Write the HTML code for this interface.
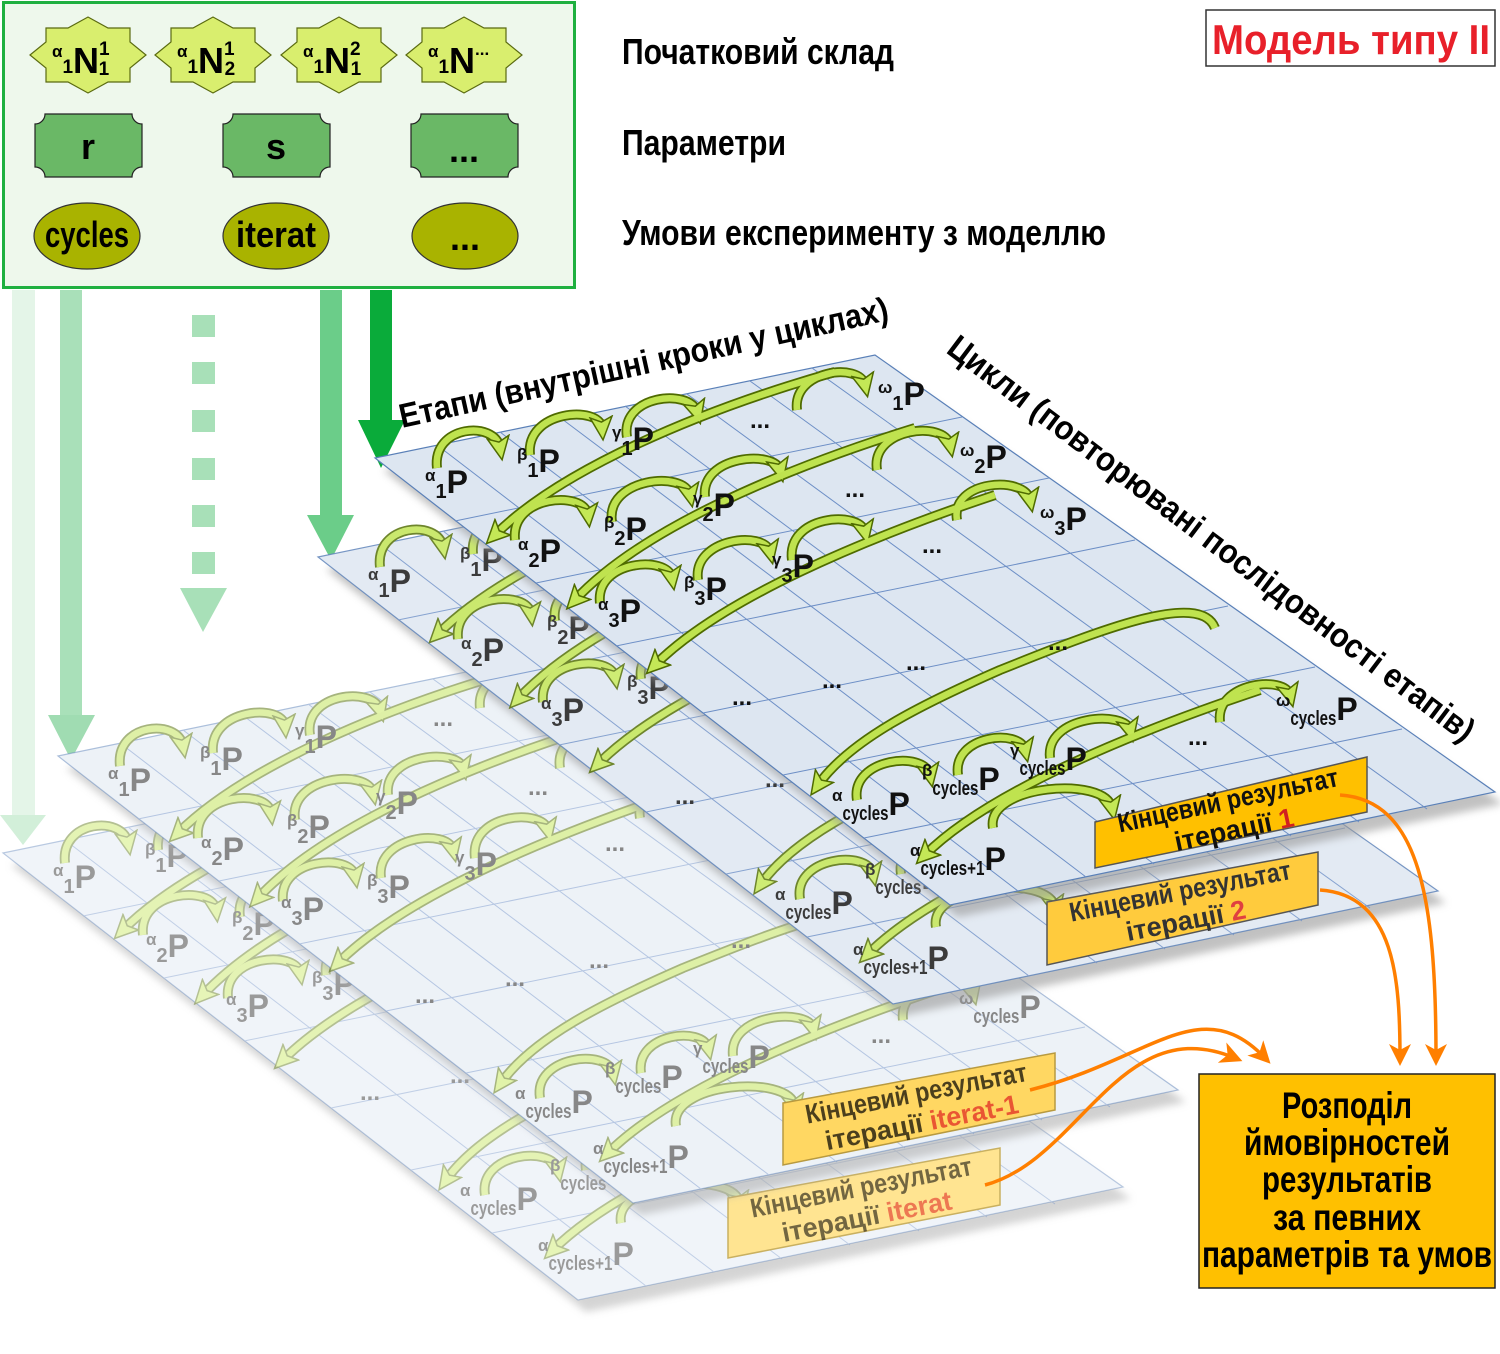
<!DOCTYPE html>
<html><head><meta charset="utf-8"><style>
html,body{margin:0;padding:0;background:#fff}
svg{display:block}
text{font-family:"Liberation Sans","DejaVu Sans",sans-serif;font-weight:bold}
.lb{fill:#111}
.o{fill:none;stroke:#4f6b00;stroke-width:10;stroke-linecap:butt}
.i{fill:none;stroke:#bfe34f;stroke-width:6.5;stroke-linecap:butt}
.gl{stroke:#6d8fc6;stroke-width:1;fill:none}
.oc{fill:none;stroke:#ff7f00;stroke-width:3.5}
</style></head><body>
<svg width="1500" height="1354" viewBox="0 0 1500 1354" xmlns="http://www.w3.org/2000/svg">
<defs>
<marker id="ah" markerUnits="userSpaceOnUse" markerWidth="26" markerHeight="26" refX="12" refY="13" orient="auto">
<path d="M1,2 L24,13 L1,24 L6,13 Z" fill="#c4e856" stroke="#4f6b00" stroke-width="1.5"/>
</marker>
<marker id="oh" markerUnits="userSpaceOnUse" markerWidth="24" markerHeight="24" refX="14" refY="12" orient="auto">
<path d="M0,1 L22,12 L0,23 L6,12 Z" fill="#ff7f00"/>
</marker>
<filter id="bl" x="-10%" y="-10%" width="120%" height="120%"><feGaussianBlur stdDeviation="4"/></filter>
<polygon id="pshape" points="375,458 875,355 1495,792 950,905"/>
<g id="plane">
<polygon points="375,458 875,355 1495,792 950,905" fill="#dde6f1" stroke="#5a80b8" stroke-width="1.2"/>
<g class="gl">
<line x1="455" y1="521" x2="962" y2="417"/>
<line x1="536" y1="583" x2="1049" y2="478"/>
<line x1="616" y1="646" x2="1135" y2="540"/>
<line x1="703" y1="713" x2="1228" y2="606"/>
<line x1="783" y1="775" x2="1315" y2="667"/>
<line x1="864" y1="838" x2="1402" y2="729"/>
<line x1="437" y1="445" x2="1018" y2="891"/>
<line x1="500" y1="432" x2="1086" y2="877"/>
<line x1="562" y1="419" x2="1154" y2="864"/>
<line x1="625" y1="406" x2="1222" y2="850"/>
<line x1="687" y1="394" x2="1291" y2="836"/>
<line x1="750" y1="381" x2="1359" y2="822"/>
<line x1="812" y1="368" x2="1427" y2="809"/>
</g>
<g class="o">
<path d="M437,468 C432,425 495,420 500,448"/>
<path d="M530,455 C525,410 600,405 602,428"/>
<path d="M627,437 C620,395 690,388 697,412"/>
<path d="M797,410 C792,370 860,362 865,385"/>
<path d="M835,372 C700,410 560,470 495,535"/>
<path d="M515,540 C510,495 585,490 588,515"/>
<path d="M612,522 C605,478 685,470 690,495"/>
<path d="M705,497 C700,455 775,450 780,470"/>
<path d="M877,470 C870,428 945,420 950,445"/>
<path d="M915,428 C780,470 640,530 575,600"/>
<path d="M600,603 C595,560 668,555 672,578"/>
<path d="M698,580 C692,538 765,530 770,552"/>
<path d="M792,560 C786,515 860,510 865,532"/>
<path d="M957,520 C950,480 1025,475 1030,500"/>
<path d="M995,495 C860,540 720,600 655,665"/>
<path d="M1215,628 C1200,590 1100,630 1000,670 C920,705 850,740 818,785"/>
<path d="M857,800 C850,758 925,750 930,775"/>
<path d="M958,775 C952,735 1020,728 1025,750"/>
<path d="M1050,758 C1045,715 1125,710 1130,730"/>
<path d="M1220,722 C1215,682 1285,675 1290,695"/>
<path d="M1260,690 C1140,730 990,790 925,855"/>
<path d="M993,828 C985,785 1105,775 1112,808"/>
</g>
<g class="i">
<path d="M437,468 C432,425 495,420 500,448" marker-end="url(#ah)"/>
<path d="M530,455 C525,410 600,405 602,428" marker-end="url(#ah)"/>
<path d="M627,437 C620,395 690,388 697,412" marker-end="url(#ah)"/>
<path d="M797,410 C792,370 860,362 865,385" marker-end="url(#ah)"/>
<path d="M835,372 C700,410 560,470 495,535" marker-end="url(#ah)"/>
<path d="M515,540 C510,495 585,490 588,515" marker-end="url(#ah)"/>
<path d="M612,522 C605,478 685,470 690,495" marker-end="url(#ah)"/>
<path d="M705,497 C700,455 775,450 780,470" marker-end="url(#ah)"/>
<path d="M877,470 C870,428 945,420 950,445" marker-end="url(#ah)"/>
<path d="M915,428 C780,470 640,530 575,600" marker-end="url(#ah)"/>
<path d="M600,603 C595,560 668,555 672,578" marker-end="url(#ah)"/>
<path d="M698,580 C692,538 765,530 770,552" marker-end="url(#ah)"/>
<path d="M792,560 C786,515 860,510 865,532" marker-end="url(#ah)"/>
<path d="M957,520 C950,480 1025,475 1030,500" marker-end="url(#ah)"/>
<path d="M995,495 C860,540 720,600 655,665" marker-end="url(#ah)"/>
<path d="M1215,628 C1200,590 1100,630 1000,670 C920,705 850,740 818,785" marker-end="url(#ah)"/>
<path d="M857,800 C850,758 925,750 930,775" marker-end="url(#ah)"/>
<path d="M958,775 C952,735 1020,728 1025,750" marker-end="url(#ah)"/>
<path d="M1050,758 C1045,715 1125,710 1130,730" marker-end="url(#ah)"/>
<path d="M1220,722 C1215,682 1285,675 1290,695" marker-end="url(#ah)"/>
<path d="M1260,690 C1140,730 990,790 925,855" marker-end="url(#ah)"/>
<path d="M993,828 C985,785 1105,775 1112,808" marker-end="url(#ah)"/>
</g>
<g class="lb">
<text x="425" y="493"><tspan font-size="17" dy="-12">α</tspan><tspan font-size="20" dy="17">1</tspan><tspan font-size="32" dy="-5">P</tspan></text>
<text x="517" y="472"><tspan font-size="17" dy="-12">β</tspan><tspan font-size="20" dy="17">1</tspan><tspan font-size="32" dy="-5">P</tspan></text>
<text x="612" y="450"><tspan font-size="17" dy="-12">γ</tspan><tspan font-size="20" dy="17">1</tspan><tspan font-size="32" dy="-5">P</tspan></text>
<text x="878" y="405"><tspan font-size="17" dy="-12">ω</tspan><tspan font-size="20" dy="17">1</tspan><tspan font-size="32" dy="-5">P</tspan></text>
<text x="518" y="562"><tspan font-size="17" dy="-12">α</tspan><tspan font-size="20" dy="17">2</tspan><tspan font-size="32" dy="-5">P</tspan></text>
<text x="604" y="540"><tspan font-size="17" dy="-12">β</tspan><tspan font-size="20" dy="17">2</tspan><tspan font-size="32" dy="-5">P</tspan></text>
<text x="693" y="516"><tspan font-size="17" dy="-12">γ</tspan><tspan font-size="20" dy="17">2</tspan><tspan font-size="32" dy="-5">P</tspan></text>
<text x="960" y="468"><tspan font-size="17" dy="-12">ω</tspan><tspan font-size="20" dy="17">2</tspan><tspan font-size="32" dy="-5">P</tspan></text>
<text x="598" y="622"><tspan font-size="17" dy="-12">α</tspan><tspan font-size="20" dy="17">3</tspan><tspan font-size="32" dy="-5">P</tspan></text>
<text x="684" y="600"><tspan font-size="17" dy="-12">β</tspan><tspan font-size="20" dy="17">3</tspan><tspan font-size="32" dy="-5">P</tspan></text>
<text x="772" y="577"><tspan font-size="17" dy="-12">γ</tspan><tspan font-size="20" dy="17">3</tspan><tspan font-size="32" dy="-5">P</tspan></text>
<text x="1040" y="530"><tspan font-size="17" dy="-12">ω</tspan><tspan font-size="20" dy="17">3</tspan><tspan font-size="32" dy="-5">P</tspan></text>
<text x="832" y="815"><tspan font-size="17" dy="-14">α</tspan><tspan font-size="20" dy="19" textLength="46" lengthAdjust="spacingAndGlyphs">cycles</tspan><tspan font-size="32" dy="-5">P</tspan></text>
<text x="922" y="790"><tspan font-size="17" dy="-14">β</tspan><tspan font-size="20" dy="19" textLength="46" lengthAdjust="spacingAndGlyphs">cycles</tspan><tspan font-size="32" dy="-5">P</tspan></text>
<text x="1010" y="770"><tspan font-size="17" dy="-14">γ</tspan><tspan font-size="20" dy="19" textLength="46" lengthAdjust="spacingAndGlyphs">cycles</tspan><tspan font-size="32" dy="-5">P</tspan></text>
<text x="1276" y="720"><tspan font-size="17" dy="-14">ω</tspan><tspan font-size="20" dy="19" textLength="46" lengthAdjust="spacingAndGlyphs">cycles</tspan><tspan font-size="32" dy="-5">P</tspan></text>
<text x="910" y="870"><tspan font-size="17" dy="-14">α</tspan><tspan font-size="20" dy="19" textLength="64" lengthAdjust="spacingAndGlyphs">cycles+1</tspan><tspan font-size="32" dy="-5">P</tspan></text>
<text x="750" y="428" font-size="24">...</text>
<text x="845" y="497" font-size="24">...</text>
<text x="922" y="553" font-size="24">...</text>
<text x="732" y="705" font-size="24">...</text>
<text x="822" y="688" font-size="24">...</text>
<text x="906" y="670" font-size="24">...</text>
<text x="1048" y="650" font-size="24">...</text>
<text x="1188" y="745" font-size="24">...</text>
</g>
</g>
</defs>

<!-- left arrows -->
<rect x="12" y="290" width="23" height="527" fill="#e4f5e8"/>
<polygon points="0,815 46,815 23,845" fill="#d2efd9"/>
<rect x="60" y="290" width="22" height="427" fill="#a9e0b9"/>
<polygon points="48,715 95,715 71,760" fill="#a0dcb2"/>
<g fill="#a8e0b8">
<rect x="192" y="315" width="23" height="22"/><rect x="192" y="362" width="23" height="22"/>
<rect x="192" y="410" width="23" height="22"/><rect x="192" y="458" width="23" height="22"/>
<rect x="192" y="505" width="23" height="22"/><rect x="192" y="552" width="23" height="22"/>
<polygon points="180,588 227,588 203,632"/>
</g>
<rect x="320" y="290" width="22" height="227" fill="#6bcd89"/>
<polygon points="307,515 354,515 331,560" fill="#6bcd89"/>
<rect x="370" y="290" width="22" height="132" fill="#0aab3a"/>
<polygon points="358,420 405,420 381,468" fill="#0aab3a"/>

<!-- plane 4 -->
<use href="#pshape" transform="translate(-364,407)" fill="#aaa" filter="url(#bl)" opacity="0.5"/>
<use href="#pshape" transform="translate(-372,395)" fill="#fff"/>
<use href="#plane" transform="translate(-372,395)" opacity="0.42"/>
<polygon points="728,1198 1000,1148 1000,1205 728,1258" fill="#ffe491" stroke="#c9b060" stroke-width="1.5"/>
<g transform="rotate(-11 864 1202)" opacity="0.55">
<text x="864" y="1196" font-size="27" text-anchor="middle" textLength="225" lengthAdjust="spacingAndGlyphs">Кінцевий результат</text>
<text x="864" y="1226" font-size="27" text-anchor="middle">ітерації <tspan fill="#e02020">iterat</tspan></text>
</g>

<!-- plane 3 -->
<use href="#pshape" transform="translate(-309,310)" fill="#aaa" filter="url(#bl)" opacity="0.55"/>
<use href="#pshape" transform="translate(-317,298)" fill="#fff"/>
<use href="#plane" transform="translate(-317,298)" opacity="0.5"/>
<polygon points="783,1103 1055,1053 1055,1110 783,1165" fill="#ffd762" stroke="#b89a40" stroke-width="1.5"/>
<g transform="rotate(-11 919 1108)" opacity="0.7">
<text x="919" y="1102" font-size="27" text-anchor="middle" textLength="225" lengthAdjust="spacingAndGlyphs">Кінцевий результат</text>
<text x="919" y="1132" font-size="27" text-anchor="middle">ітерації <tspan fill="#e02020">iterat-1</tspan></text>
</g>

<!-- plane 2 -->
<use href="#pshape" transform="translate(-49,111)" fill="#999" filter="url(#bl)" opacity="0.6"/>
<use href="#pshape" transform="translate(-57,99)" fill="#fff"/>
<use href="#plane" transform="translate(-57,99)" opacity="0.82"/>
<polygon points="1047,902 1318,852 1318,905 1047,965" fill="#ffcb3d" stroke="#555" stroke-width="1.5"/>
<g transform="rotate(-11 1183 906)">
<text x="1183" y="900" font-size="27" text-anchor="middle" fill="#333" textLength="225" lengthAdjust="spacingAndGlyphs">Кінцевий результат</text>
<text x="1183" y="930" font-size="27" text-anchor="middle" fill="#333">ітерації <tspan fill="#e04040">2</tspan></text>
</g>

<!-- plane 1 -->
<use href="#pshape" transform="translate(8,12)" fill="#999" filter="url(#bl)" opacity="0.6"/>
<use href="#plane"/>
<polygon points="1095,822 1367,757 1367,812 1095,868" fill="#ffc000" stroke="#555" stroke-width="1.5"/>
<g transform="rotate(-12 1231 815)">
<text x="1231" y="809" font-size="27" text-anchor="middle" fill="#111" textLength="225" lengthAdjust="spacingAndGlyphs">Кінцевий результат</text>
<text x="1231" y="839" font-size="27" text-anchor="middle" fill="#111">ітерації <tspan fill="#d02020">1</tspan></text>
</g>

<!-- orange connectors -->
<path class="oc" d="M1340,795 C1420,800 1436,900 1436,1058" marker-end="url(#oh)"/>
<path class="oc" d="M1320,890 C1395,895 1400,980 1400,1058" marker-end="url(#oh)"/>
<path class="oc" d="M1030,1090 C1150,1060 1200,990 1265,1058" marker-end="url(#oh)"/>
<path class="oc" d="M985,1185 C1080,1160 1120,1010 1235,1058" marker-end="url(#oh)"/>

<!-- final box -->
<rect x="1199" y="1074" width="296" height="214" fill="#ffc000" stroke="#222" stroke-width="1.5"/>
<g font-size="37" text-anchor="middle" fill="#000">
<text x="1347" y="1118" textLength="130" lengthAdjust="spacingAndGlyphs">Розподіл</text>
<text x="1347" y="1155" textLength="206" lengthAdjust="spacingAndGlyphs">ймовірностей</text>
<text x="1347" y="1192" textLength="170" lengthAdjust="spacingAndGlyphs">результатів</text>
<text x="1347" y="1230" textLength="148" lengthAdjust="spacingAndGlyphs">за певних</text>
<text x="1347" y="1267" textLength="290" lengthAdjust="spacingAndGlyphs">параметрів та умов</text>
</g>

<!-- rotated titles -->
<text x="402" y="428" font-size="34" transform="rotate(-12.5 402 428)" textLength="500" lengthAdjust="spacingAndGlyphs">Етапи (внутрішні кроки у циклах)</text>
<text x="945" y="352" font-size="34" transform="rotate(37 945 352)" textLength="650" lengthAdjust="spacingAndGlyphs">Цикли (повторювані послідовності етапів)</text>

<!-- top box -->
<rect x="3.5" y="2.5" width="571" height="285" fill="#eef8ec" stroke="#1fb040" stroke-width="3"/>
<g fill="#d9ee6e" stroke="#5a6a10" stroke-width="1.2">
<polygon transform="translate(88,55)" points="-58,0 -42,-13 -42,-27 -20,-27 0,-38 20,-27 42,-27 42,-13 58,0 42,13 42,27 20,27 0,38 -20,27 -42,27 -42,13"/>
<polygon transform="translate(213,55)" points="-58,0 -42,-13 -42,-27 -20,-27 0,-38 20,-27 42,-27 42,-13 58,0 42,13 42,27 20,27 0,38 -20,27 -42,27 -42,13"/>
<polygon transform="translate(339,55)" points="-58,0 -42,-13 -42,-27 -20,-27 0,-38 20,-27 42,-27 42,-13 58,0 42,13 42,27 20,27 0,38 -20,27 -42,27 -42,13"/>
<polygon transform="translate(464,55)" points="-58,0 -42,-13 -42,-27 -20,-27 0,-38 20,-27 42,-27 42,-13 58,0 42,13 42,27 20,27 0,38 -20,27 -42,27 -42,13"/>
</g>
<g fill="#000">
<text x="52" y="73"><tspan font-size="17" dy="-16">α</tspan><tspan font-size="19" dy="16">1</tspan><tspan font-size="36" dy="0">N</tspan><tspan font-size="19" dy="-18">1</tspan><tspan font-size="19" dx="-10" dy="20">1</tspan></text>
<text x="177" y="73"><tspan font-size="17" dy="-16">α</tspan><tspan font-size="19" dy="16">1</tspan><tspan font-size="36" dy="0">N</tspan><tspan font-size="19" dy="-18">1</tspan><tspan font-size="19" dx="-10" dy="20">2</tspan></text>
<text x="303" y="73"><tspan font-size="17" dy="-16">α</tspan><tspan font-size="19" dy="16">1</tspan><tspan font-size="36" dy="0">N</tspan><tspan font-size="19" dy="-18">2</tspan><tspan font-size="19" dx="-10" dy="20">1</tspan></text>
<text x="428" y="73"><tspan font-size="17" dy="-16">α</tspan><tspan font-size="19" dy="16">1</tspan><tspan font-size="36" dy="0">N</tspan><tspan font-size="17" dy="-18">...</tspan></text>
</g>
<g fill="#6ab866" stroke="#222" stroke-width="1.2">
<path transform="translate(35,114)" d="M10,0 H97 A10,10 0 0 0 107,10 V53 A10,10 0 0 0 97,63 H10 A10,10 0 0 0 0,53 V10 A10,10 0 0 0 10,0 Z"/>
<path transform="translate(223,114)" d="M10,0 H97 A10,10 0 0 0 107,10 V53 A10,10 0 0 0 97,63 H10 A10,10 0 0 0 0,53 V10 A10,10 0 0 0 10,0 Z"/>
<path transform="translate(411,114)" d="M10,0 H97 A10,10 0 0 0 107,10 V53 A10,10 0 0 0 97,63 H10 A10,10 0 0 0 0,53 V10 A10,10 0 0 0 10,0 Z"/>
</g>
<g font-size="36" text-anchor="middle" fill="#000">
<text x="88" y="159">r</text>
<text x="276" y="159">s</text>
<text x="464" y="162">...</text>
</g>
<g fill="#a9b300" stroke="#333" stroke-width="1.2">
<ellipse cx="87" cy="236" rx="53" ry="33"/>
<ellipse cx="276" cy="236" rx="53" ry="33"/>
<ellipse cx="465" cy="236" rx="53" ry="33"/>
</g>
<g font-size="36" text-anchor="middle" fill="#000">
<text x="87" y="247" textLength="84" lengthAdjust="spacingAndGlyphs">cycles</text>
<text x="276" y="247" textLength="80" lengthAdjust="spacingAndGlyphs">iterat</text>
<text x="465" y="250">...</text>
</g>

<g font-size="36" fill="#000">
<text x="622" y="64" textLength="272" lengthAdjust="spacingAndGlyphs">Початковий склад</text>
<text x="622" y="155" textLength="164" lengthAdjust="spacingAndGlyphs">Параметри</text>
<text x="622" y="245" textLength="484" lengthAdjust="spacingAndGlyphs">Умови експерименту з моделлю</text>
</g>

<rect x="1206" y="10" width="289" height="56" fill="#fff" stroke="#333" stroke-width="1.5"/>
<text x="1212" y="54" font-size="42" fill="#e8202a" textLength="278" lengthAdjust="spacingAndGlyphs">Модель типу II</text>
</svg>
</body></html>
